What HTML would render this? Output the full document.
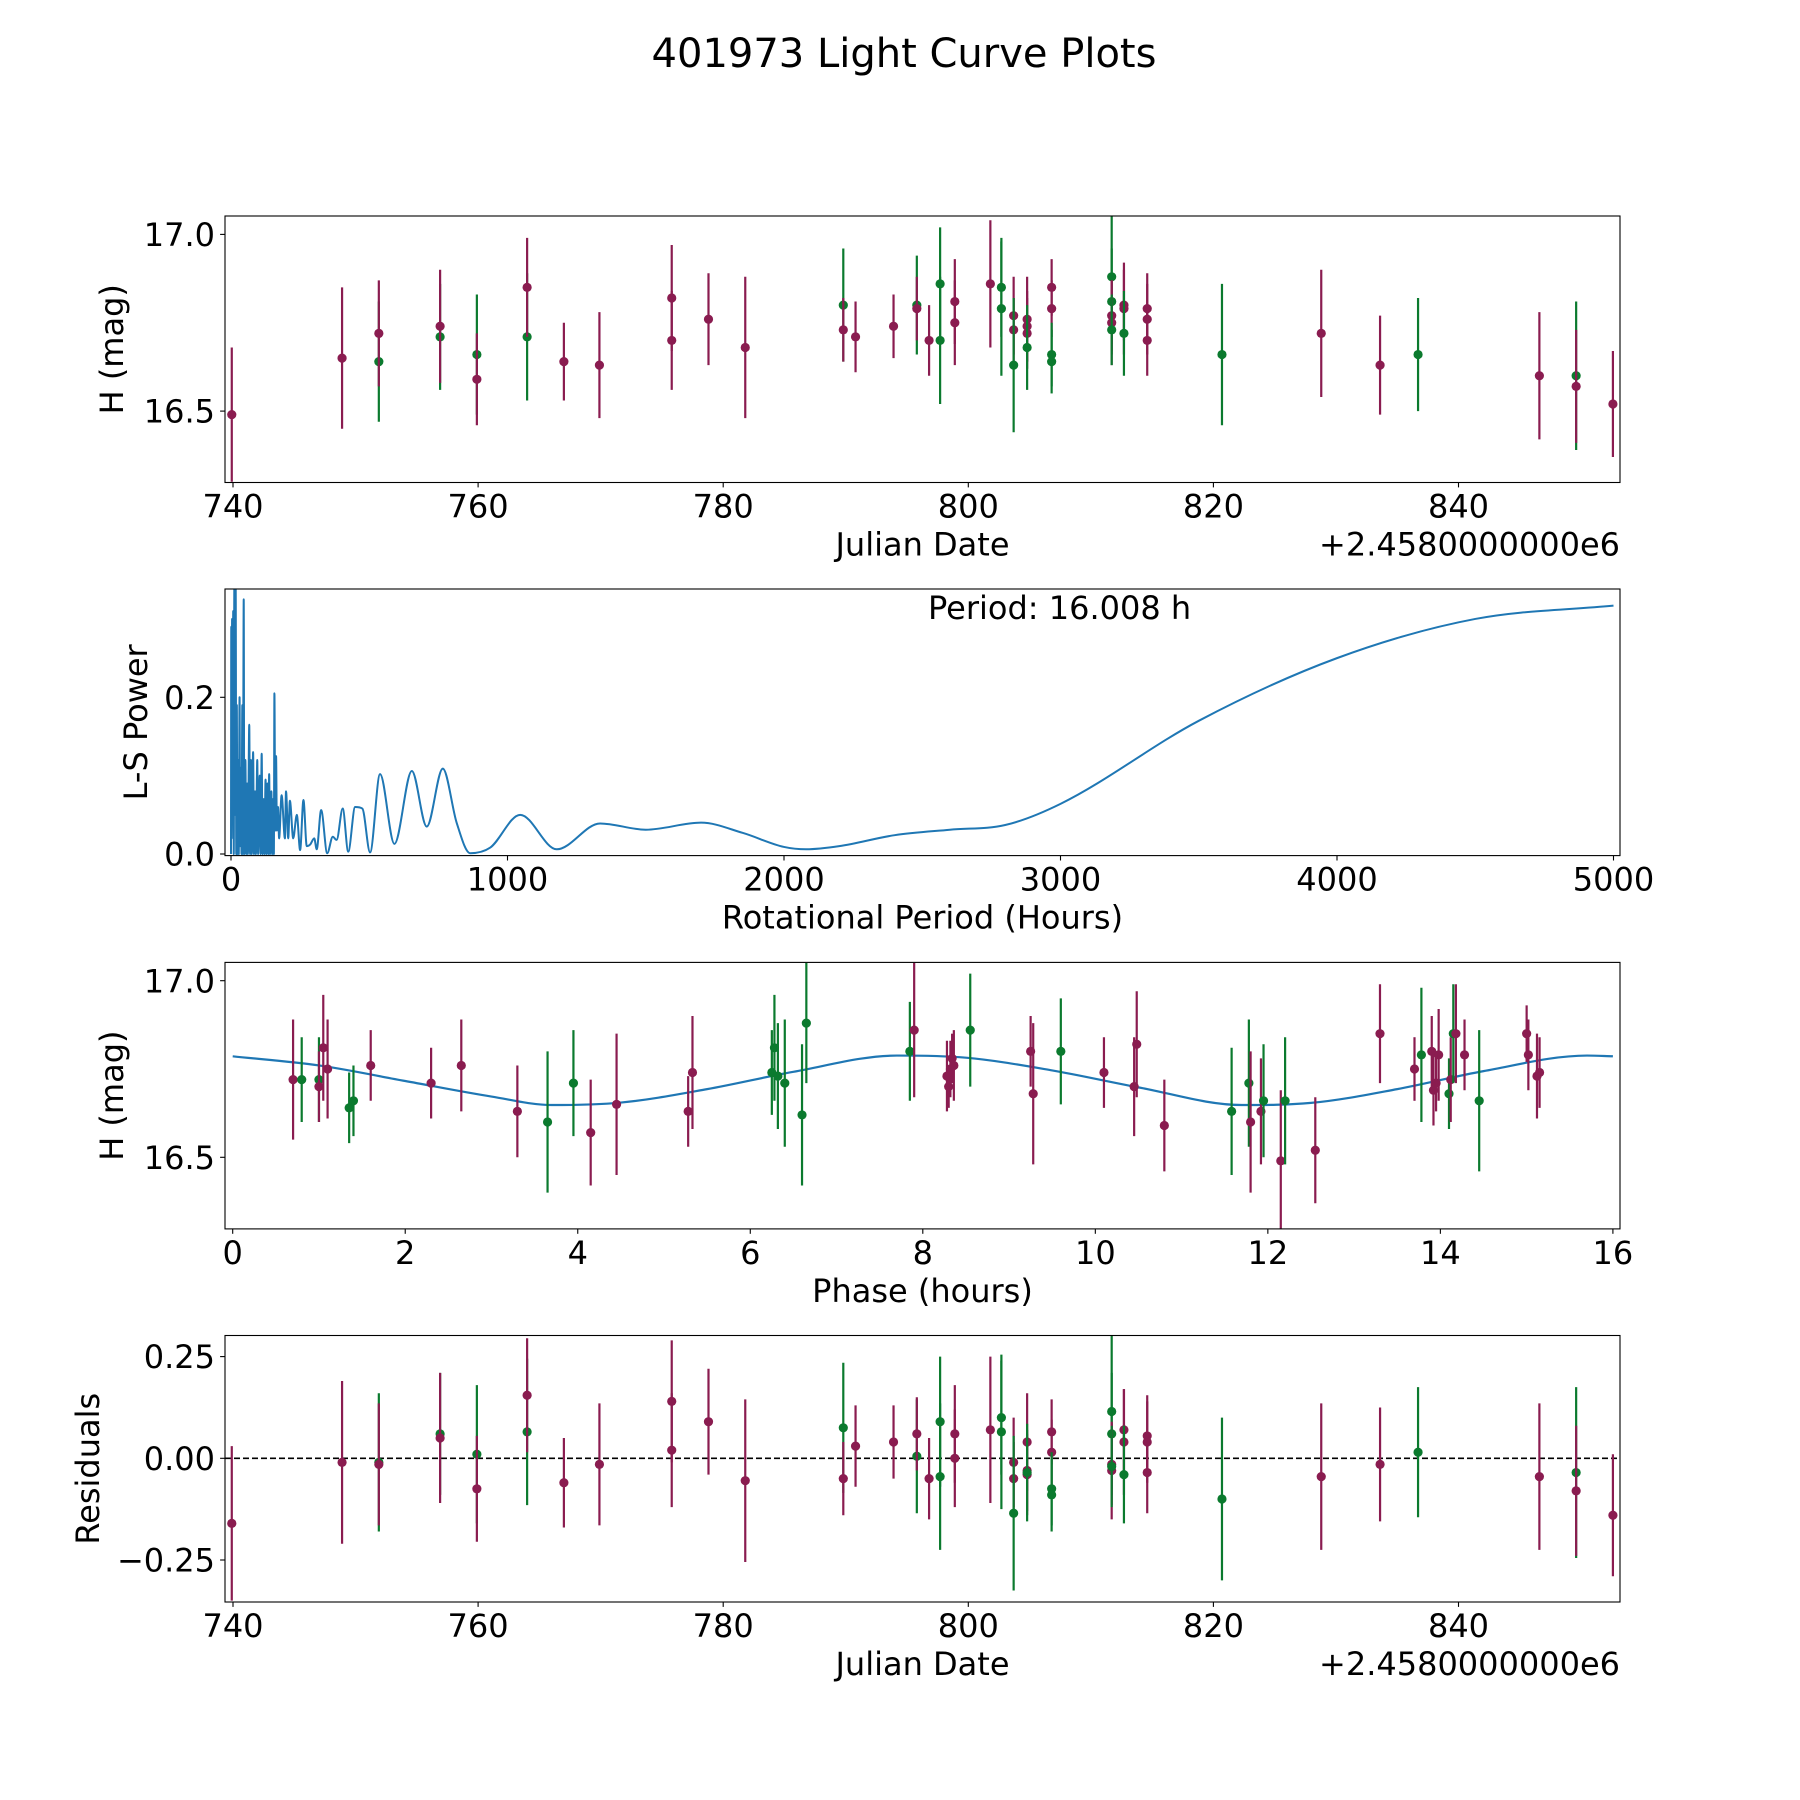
<!DOCTYPE html>
<html><head><meta charset="utf-8"><style>
html,body{margin:0;padding:0;background:#fff;}
svg{display:block;font-family:"DejaVu Sans","Liberation Sans",sans-serif;}
</style></head><body>
<svg id="fig" width="1800" height="1800" viewBox="0 0 1800 1800" xmlns="http://www.w3.org/2000/svg">
<rect x="0" y="0" width="1800" height="1800" fill="#fff"/>
<text x="904" y="67" font-size="40" text-anchor="middle">401973 Light Curve Plots</text>
</svg>
<script>
// ---------- Panel 1: raw light curve ----------
const lcDate = [739.9,748.9,751.9,751.9,756.9,756.9,759.9,759.9,764.0,764.0,767.0,769.9,775.8,775.8,778.8,781.8,789.8,789.8,790.8,793.9,795.8,795.8,796.8,797.7,797.7,798.9,798.9,801.8,802.7,802.7,803.7,803.7,803.7,804.8,804.8,804.8,804.8,806.8,806.8,806.8,806.8,811.7,811.7,811.7,811.7,811.7,812.7,812.7,812.7,814.6,814.6,814.6,820.7,828.8,833.6,836.7,846.6,849.6,849.6,852.6];
const lcMag = [16.49,16.65,16.64,16.72,16.71,16.74,16.66,16.59,16.71,16.85,16.64,16.63,16.82,16.70,16.76,16.68,16.80,16.73,16.71,16.74,16.80,16.79,16.70,16.86,16.70,16.81,16.75,16.86,16.85,16.79,16.77,16.73,16.63,16.76,16.74,16.72,16.68,16.85,16.79,16.66,16.64,16.88,16.81,16.77,16.75,16.73,16.80,16.79,16.72,16.79,16.76,16.70,16.66,16.72,16.63,16.66,16.60,16.60,16.57,16.52];
const lcErr = [0.19,0.2,0.17,0.15,0.15,0.16,0.17,0.13,0.18,0.14,0.11,0.15,0.15,0.14,0.13,0.2,0.16,0.09,0.1,0.09,0.14,0.09,0.1,0.16,0.18,0.12,0.12,0.18,0.14,0.19,0.11,0.09,0.19,0.12,0.1,0.1,0.12,0.08,0.08,0.09,0.09,0.19,0.15,0.1,0.12,0.1,0.1,0.13,0.12,0.1,0.1,0.1,0.2,0.18,0.14,0.16,0.18,0.21,0.16,0.15];
const lcBand = ["p","p","g","p","g","p","g","p","g","p","p","p","p","p","p","p","g","p","p","p","g","p","p","g","g","p","p","p","g","g","p","p","g","p","p","p","g","p","p","g","g","g","g","p","p","g","p","p","g","p","p","p","g","p","p","g","p","g","p","p"];
const dateTicks = [740,760,780,800,820,840];
const magTicks = [16.5,17.0];
const magTickLabels = ["16.5","17.0"];

// ---------- Panel 2: periodogram ----------
const lsPeriod = [0,1,2,4,6,8,10,12,14,17,19,21,23,26,28,31,33,36,38,41,43,46,48,52,55,58,61,66,69,72,75,80,83,87,90,95,98,104,107,111,114,118,121,125,128,132,135,138,141,146,149,152,155,157,160,163,166,170,174,183,195,199,207,213,225,238,250,262,274,286,301,310,326,348,368,382,404,424,449,475,503,539,591,654,708,766,816,865,937,1046,1178,1335,1500,1700,1850,2000,2080,2200,2400,2600,2800,3000,3500,4000,4500,5000];
const lsPower = [0.0,0.29,0.02,0.30,0.05,0.31,0.0,0.34,0.05,0.34,0.0,0.19,0.0,0.12,0.0,0.2,0.01,0.11,0.0,0.19,0.0,0.325,0.0,0.12,0.0,0.09,0.0,0.165,0.0,0.12,0.0,0.13,0.0,0.08,0.0,0.12,0.0,0.1,0.0,0.128,0.0,0.07,0.0,0.095,0.0,0.09,0.0,0.102,0.0,0.08,0.0,0.07,0.0,0.205,0.03,0.125,0.03,0.06,0.02,0.075,0.02,0.08,0.02,0.068,0.02,0.05,0.005,0.069,0.01,0.012,0.02,0.006,0.056,0.001,0.022,0.018,0.058,0.003,0.06,0.058,0.002,0.102,0.013,0.106,0.035,0.109,0.04,0.001,0.008,0.05,0.006,0.039,0.031,0.04,0.027,0.009,0.006,0.01,0.024,0.031,0.037,0.064,0.17,0.25,0.30,0.317];
const periodTicks = [0,1000,2000,3000,4000,5000];
const powerTicks = [0.0,0.2];
const powerTickLabels = ["0.0","0.2"];

// ---------- Panel 3: phased light curve ----------
const phPhase = [0.7,0.8,1.0,1.0,1.05,1.1,1.35,1.4,1.6,2.3,2.65,3.3,3.65,3.95,4.15,4.45,5.28,5.33,6.25,6.28,6.32,6.4,6.6,6.65,7.85,7.9,8.28,8.3,8.32,8.34,8.36,8.55,9.25,9.28,9.6,10.1,10.45,10.48,10.8,11.58,11.78,11.8,11.92,11.95,12.15,12.2,12.55,13.3,13.7,13.78,13.9,13.92,13.95,13.98,14.1,14.12,14.15,14.18,14.28,14.45,15.0,15.02,15.12,15.15];
const phMag = [16.72,16.72,16.72,16.70,16.81,16.75,16.64,16.66,16.76,16.71,16.76,16.63,16.60,16.71,16.57,16.65,16.63,16.74,16.74,16.81,16.73,16.71,16.62,16.88,16.80,16.86,16.73,16.70,16.75,16.78,16.76,16.86,16.80,16.68,16.80,16.74,16.70,16.82,16.59,16.63,16.71,16.60,16.63,16.66,16.49,16.66,16.52,16.85,16.75,16.79,16.80,16.69,16.71,16.79,16.68,16.72,16.85,16.85,16.79,16.66,16.85,16.79,16.73,16.74];
const phErr = [0.17,0.12,0.12,0.1,0.15,0.14,0.1,0.1,0.1,0.1,0.13,0.13,0.2,0.15,0.15,0.2,0.1,0.16,0.12,0.15,0.15,0.18,0.2,0.17,0.14,0.19,0.1,0.06,0.08,0.07,0.1,0.16,0.1,0.2,0.15,0.1,0.14,0.15,0.13,0.18,0.18,0.2,0.15,0.16,0.2,0.18,0.15,0.14,0.09,0.19,0.1,0.1,0.08,0.13,0.1,0.12,0.14,0.14,0.1,0.2,0.08,0.1,0.12,0.1];
const phBand = ["p","g","g","p","p","p","g","g","p","p","p","p","g","g","p","p","p","p","g","g","g","g","g","g","g","p","p","p","p","p","p","g","p","p","g","p","p","p","p","g","g","p","p","g","p","g","p","p","p","g","p","p","p","p","g","p","g","p","p","g","p","p","p","p"];
const modelPhase = [0,1,2,3,3.7,4.5,5.5,6.5,7.7,8.5,9.5,10.5,11.7,12.5,13.5,14.5,15.7,16];
const modelMag = [16.786,16.760,16.716,16.672,16.648,16.655,16.693,16.742,16.788,16.782,16.746,16.698,16.648,16.654,16.693,16.744,16.788,16.786];
const phaseTicks = [0,2,4,6,8,10,12,14,16];

// ---------- Panel 4: residuals ----------
const resDate = lcDate.slice();
const resVal = [-0.16,-0.01,-0.01,-0.015,0.06,0.05,0.01,-0.075,0.065,0.155,-0.06,-0.015,0.14,0.02,0.09,-0.055,0.075,-0.05,0.03,0.04,0.005,0.06,-0.05,0.09,-0.045,0.06,0.0,0.07,0.1,0.065,-0.01,-0.05,-0.135,0.04,-0.03,-0.04,-0.035,0.065,0.015,-0.075,-0.09,0.115,0.06,-0.015,-0.03,-0.02,0.07,0.04,-0.04,0.055,0.04,-0.035,-0.1,-0.045,-0.015,0.015,-0.045,-0.035,-0.08,-0.14];
const resErr = lcErr.slice();
const resBand = lcBand.slice();
const resTicks = [-0.25,0.0,0.25];
const resTickLabels = ["\u22120.25","0.00","0.25"];

const NS = "http://www.w3.org/2000/svg";
const svg = document.getElementById("fig");
const COL = {p:"#8a1c50", g:"#0b7a2e"};
const L = 225, R = 1620;
function mk(tag, attrs, parent){ const e=document.createElementNS(NS,tag); for(const k in attrs) e.setAttribute(k,attrs[k]); (parent||svg).appendChild(e); return e; }
function lin(d0,d1,p0,p1){ return v => p0 + (v-d0)*(p1-p0)/(d1-d0); }

function panel(id, top, bottom, xs, ys){
  const g = mk("g",{});
  
  
  const cp = mk("clipPath",{id:"clip-"+id}, g);
  mk("rect",{x:L,y:top,width:R-L,height:bottom-top}, cp);
  const plot = mk("g",{"clip-path":"url(#clip-"+id+")"}, g);
  
  
  return {g, plot, top, bottom, xs, ys};
}
function frame(P){
  const r = mk("rect",{x:L,y:P.top,width:R-L,height:P.bottom-P.top,fill:"none",stroke:"#000","stroke-width":1.1}, P.g);
  
  
}
function xTicks(P, vals, labels){
  vals.forEach((v,i)=>{
    const x = P.xs(v);
    const t = mk("line",{x1:x,x2:x,y1:P.bottom,y2:P.bottom+4.9,stroke:"#000","stroke-width":1.1}, P.g);
    
    
    const tx = mk("text",{x:x,y:P.bottom+35,"font-size":32,"text-anchor":"middle"}, P.g);
    tx.textContent = labels ? labels[i] : String(v);
    
    
  });
}
function yTicks(P, vals, labels){
  vals.forEach((v,i)=>{
    const y = P.ys(v);
    const t = mk("line",{x1:L-4.9,x2:L,y1:y,y2:y,stroke:"#000","stroke-width":1.1}, P.g);
    
    
    const tx = mk("text",{x:L-10,y:y+11.6,"font-size":32,"text-anchor":"end"}, P.g);
    tx.textContent = labels[i];
    
    
  });
}
function xLabel(P, txt, name){
  const t = mk("text",{x:(L+R)/2,y:P.bottom+73,"font-size":32,"text-anchor":"middle"}, P.g);
  t.textContent = txt;
  
  
}
function yLabel(P, txt, bx, name){
  const cy = (P.top+P.bottom)/2;
  const t = mk("text",{x:bx,y:cy,"font-size":32,"text-anchor":"middle",transform:"rotate(-90 "+bx+" "+cy+")"}, P.g);
  t.textContent = txt;
  
  
}
function offsetText(P){
  const t = mk("text",{x:R,y:P.bottom+73,"font-size":32,"text-anchor":"end"}, P.g);
  t.textContent = "+2.4580000000e6";
  
  
}
function errPoints(P, xsArr, ysArr, errArr, bandArr){
  xsArr.forEach((v,i)=>{
    const x = P.xs(v), c = COL[bandArr[i]];
    const ln = mk("line",{x1:x,x2:x,y1:P.ys(ysArr[i]-errArr[i]),y2:P.ys(ysArr[i]+errArr[i]),stroke:c,"stroke-width":2.2}, P.plot);
    
    
    const ci = mk("circle",{cx:x,cy:P.ys(ysArr[i]),r:4.6,fill:c}, P.plot);
    
    
  });
}
function monotonePath(px, py){
  const n = px.length, d=[], m=[];
  for(let i=0;i<n-1;i++) d.push((py[i+1]-py[i])/(px[i+1]-px[i]));
  m[0]=d[0]; m[n-1]=d[n-2];
  for(let i=1;i<n-1;i++){ m[i] = (d[i-1]*d[i]<=0) ? 0 : (d[i-1]+d[i])/2; }
  for(let i=0;i<n-1;i++){
    if(d[i]===0){ m[i]=0; m[i+1]=0; continue; }
    const a=m[i]/d[i], b=m[i+1]/d[i], s=a*a+b*b;
    if(s>9){ const t=3/Math.sqrt(s); m[i]=t*a*d[i]; m[i+1]=t*b*d[i]; }
  }
  let p = "M"+px[0]+","+py[0];
  for(let i=0;i<n-1;i++){
    const h=(px[i+1]-px[i])/3;
    p += " C"+(px[i]+h)+","+(py[i]+m[i]*h)+" "+(px[i+1]-h)+","+(py[i+1]-m[i+1]*h)+" "+px[i+1]+","+py[i+1];
  }
  return p;
}

// Panel 1
const P1 = panel("raw-lightcurve-panel", 216, 482.5, lin(740,760,233,478.1), lin(17.0,16.5,234.4,411.1));
errPoints(P1, lcDate, lcMag, lcErr, lcBand);
frame(P1); xTicks(P1, dateTicks); yTicks(P1, magTicks, magTickLabels);
xLabel(P1, "Julian Date", "x-axis-title"); offsetText(P1); yLabel(P1, "H (mag)", 123, "y-axis-title");

// Panel 2
const P2 = panel("periodogram-panel", 589, 855.6, lin(0,1000,231,507.5), lin(0,0.2,854,697.3));
const lsX = lsPeriod.map(v=>P2.xs(v)), lsY = lsPower.map(v=>P2.ys(v));
const lsLine = mk("path",{d:monotonePath(lsX, lsY),fill:"none",stroke:"#1f77b4","stroke-width":2,"stroke-linejoin":"round"}, P2.plot);


frame(P2); xTicks(P2, periodTicks); yTicks(P2, powerTicks, powerTickLabels);
xLabel(P2, "Rotational Period (Hours)", "x-axis-title"); yLabel(P2, "L-S Power", 147, "y-axis-title");
const per = mk("text",{x:928,y:619,"font-size":32}, P2.g);
per.textContent = "Period: 16.008 h";



// Panel 3
const P3 = panel("phased-lightcurve-panel", 962.4, 1228.9, lin(0,16,232.7,1612.9), lin(17.0,16.5,980.7,1157.3));
const mX = modelPhase.map(v=>P3.xs(v)), mY = modelMag.map(v=>P3.ys(v));
const model = mk("path",{d:monotonePath(mX,mY),fill:"none",stroke:"#1f77b4","stroke-width":2.2}, P3.plot);


errPoints(P3, phPhase, phMag, phErr, phBand);
frame(P3); xTicks(P3, phaseTicks); yTicks(P3, magTicks, magTickLabels);
xLabel(P3, "Phase (hours)", "x-axis-title"); yLabel(P3, "H (mag)", 123, "y-axis-title");

// Panel 4
const P4 = panel("residuals-panel", 1335.5, 1602, lin(740,760,233,478.1), lin(0,0.25,1458.3,1356.6));
const zl = mk("line",{x1:L,x2:R,y1:P4.ys(0),y2:P4.ys(0),stroke:"#000","stroke-width":1.6,"stroke-dasharray":"6,3"}, P4.plot);


errPoints(P4, resDate, resVal, resErr, resBand);
frame(P4); xTicks(P4, dateTicks); yTicks(P4, resTicks, resTickLabels);
xLabel(P4, "Julian Date", "x-axis-title"); offsetText(P4); yLabel(P4, "Residuals", 99, "y-axis-title");
</script>
</body></html>
